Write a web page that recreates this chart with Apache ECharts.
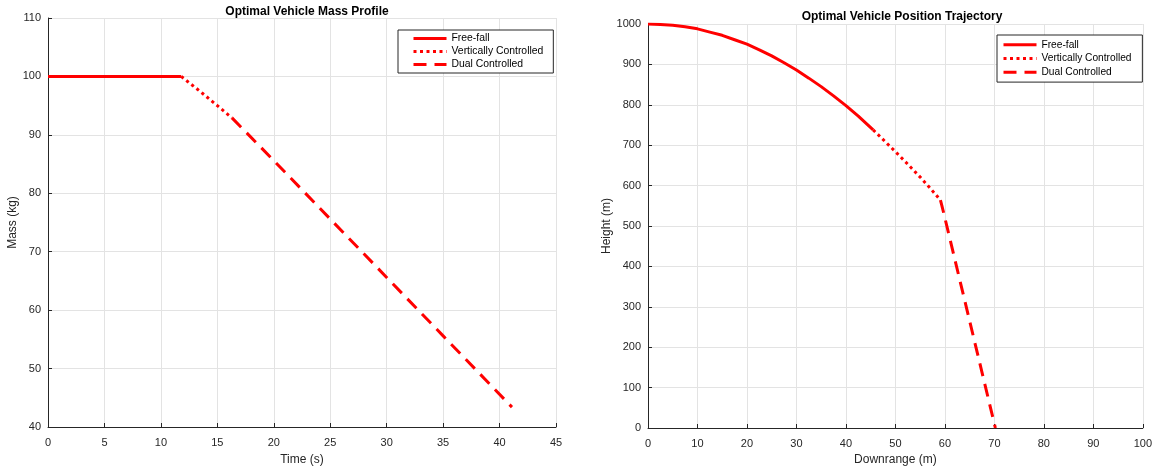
<!DOCTYPE html>
<html><head><meta charset="utf-8">
<script src="https://cdn.jsdelivr.net/npm/echarts@6/dist/echarts.min.js"></script>
<style>html,body{margin:0;padding:0;background:#fff}#c{width:1155px;height:471px}</style>
</head><body><div id="c"></div>
<script>
// Mass profile (time s, mass kg)
const massFreeFall = [[0, 100], [11.8, 100]];
const massVertical = [[11.8, 100], [13.5, 97.4], [15, 95.0], [16.3, 92.9]];
const massDual = [[16.3, 92.9], [20, 85.6], [25, 75.6], [30, 65.6], [35, 55.6], [41.1, 43.4]];
// Position trajectory (downrange m, height m)
const posFreeFall = [[0, 1000], [2.5, 999], [5, 997], [7.5, 993], [10, 988], [12.5, 980], [15, 972], [17.5, 961], [20, 950], [22.5, 936], [25, 921], [27.5, 904], [30, 886], [32.5, 866], [35, 845], [37.5, 822], [40, 798], [42.5, 772], [45.5, 738]];
const posVertical = [[45.5, 738], [48, 708], [50, 684], [52.5, 653], [55, 621], [57, 594], [59.1, 564]];
const posDual = [[59.1, 564], [59.4, 550], [59.8, 530], [65, 265], [70.2, 0]];
const seriesNames = ['Free-fall', 'Vertically Controlled', 'Dual Controlled'];
const titles = ['Optimal Vehicle Mass Profile', 'Optimal Vehicle Position Trajectory'];

const FONT = 'Liberation Sans, Arial, Helvetica, sans-serif';
const TXT = '#262626';
const RED = '#ff0000';
const styles = [
  {type: 'solid'},
  {type: [3, 3.5]},
  {type: [13, 8]}
];

function axis(gridIndex, min, max, interval, name, gap, isY) {
  return {
    type: 'value', gridIndex, min, max, interval,
    name, nameLocation: 'middle', nameGap: gap,
    nameTextStyle: {fontFamily: FONT, fontSize: 12, color: TXT},
    axisLine: {show: true, onZero: false, lineStyle: {color: TXT, width: 1}},
    axisTick: {show: true, inside: true, length: 4, lineStyle: {color: TXT}},
    axisLabel: {fontFamily: FONT, fontSize: 11, color: TXT, margin: isY ? 7 : 10, formatter: v => String(v)},
    splitLine: {show: true, lineStyle: {color: '#e3e3e3', width: 1}}
  };
}

function mk(name, data, idx, axisIdx) {
  return {
    type: 'line', name, data, xAxisIndex: axisIdx, yAxisIndex: axisIdx,
    showSymbol: false, symbol: 'none', smooth: false,
    lineStyle: {color: RED, width: 3, type: styles[idx].type, cap: 'butt'},
    itemStyle: {color: RED},
    animation: false
  };
}

const legendBase = {
  orient: 'vertical', itemWidth: 33, itemHeight: 10, itemGap: 0,
  borderColor: TXT, borderWidth: 1, backgroundColor: '#fff',
  itemStyle: {opacity: 0},
  lineStyle: {width: 3},
};

const chart = echarts.init(document.getElementById('c'), null, {renderer: 'canvas'});
chart.setOption({
  animation: false,
  title: [
    {text: titles[0], left: 302, top: 1, textAlign: 'center', textStyle: {fontFamily: FONT, fontSize: 12, fontWeight: 'bold', color: '#000'}},
    {text: titles[1], left: 897, top: 6, textAlign: 'center', textStyle: {fontFamily: FONT, fontSize: 12, fontWeight: 'bold', color: '#000'}}
  ],
  grid: [
    {left: 48, right: 599, top: 18, bottom: 42},
    {left: 648, right: 8, top: 24, bottom: 43}
  ],
  xAxis: [
    axis(0, 0, 45, 5, 'Time (s)', 27, false),
    axis(1, 0, 100, 10, 'Downrange (m)', 22, false)
  ],
  yAxis: [
    axis(0, 40, 110, 10, 'Mass (kg)', 26, true),
    axis(1, 0, 1000, 100, 'Height (m)', 32, true)
  ],
  legend: [
    Object.assign({}, legendBase, {left: 398, top: 30, padding: [2, 10, 2, 14],
      textStyle: {fontFamily: FONT, fontSize: 10.4, color: '#000', lineHeight: 13},
      data: seriesNames.slice()}),
    Object.assign({}, legendBase, {left: 997, top: 35, padding: [3, 8, 3, 5],
      textStyle: {fontFamily: FONT, fontSize: 10.2, color: '#000', lineHeight: 13.7},
      data: seriesNames.map(n => n + ' ')})
  ],
  series: [
    mk(seriesNames[0], massFreeFall, 0, 0),
    mk(seriesNames[1], massVertical, 1, 0),
    mk(seriesNames[2], massDual, 2, 0),
    mk(seriesNames[0] + ' ', posFreeFall, 0, 1),
    mk(seriesNames[1] + ' ', posVertical, 1, 1),
    mk(seriesNames[2] + ' ', posDual, 2, 1)
  ]
});
</script></body></html>
